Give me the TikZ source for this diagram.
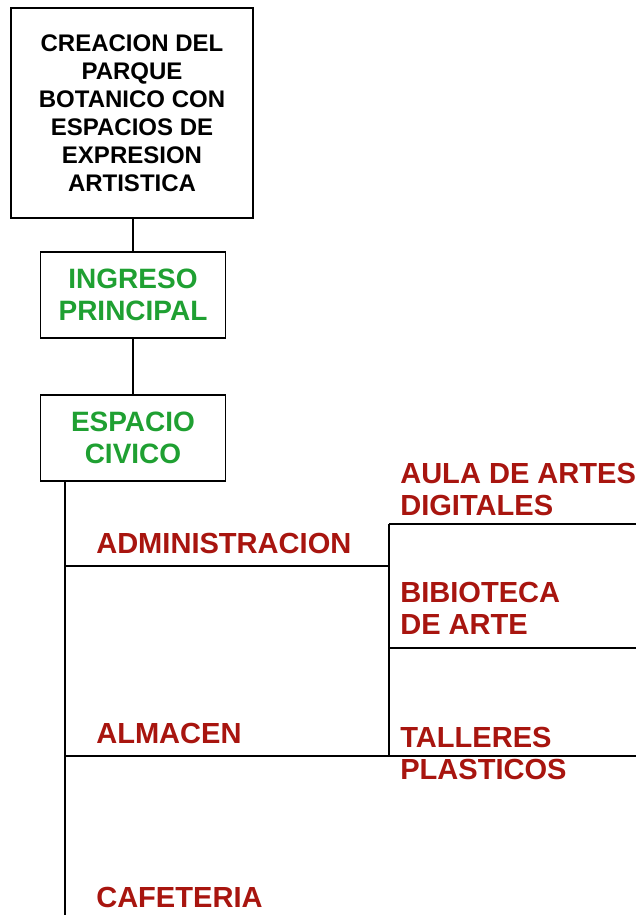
\documentclass[tikz,border=0pt]{standalone}
\usepackage{fontspec}
\setmainfont{Liberation Sans}
\usetikzlibrary{positioning}
\definecolor{verde}{HTML}{1FA032}
\definecolor{rojo}{HTML}{A8150F}

\begin{document}
\begin{tikzpicture}[x=0.75pt,y=-0.75pt]
  \tikzset{
    caja/.style={draw, line width=1.4pt, align=center, inner sep=0pt},
    linea/.style={line width=1.4pt},
    area/.style={anchor=west, align=left, inner sep=0pt, text=rojo,
      font=\fontsize{21.8}{24}\selectfont\bfseries}
  }
  \useasboundingbox (0,0) rectangle (636,915);

  % cajas principales
  \node[caja, minimum width=181.5pt, minimum height=157.5pt,
    font=\fontsize{18}{21}\selectfont\bfseries] (titulo) at (132,113)
    {CREACION DEL\\PARQUE\\BOTANICO CON\\ESPACIOS DE\\EXPRESION\\ARTISTICA};
  \node[caja, minimum width=138.75pt, minimum height=64.5pt, text=verde,
    font=\fontsize{21}{24}\selectfont\bfseries] (ingreso) at (133,295)
    {INGRESO\\PRINCIPAL};
  \node[caja, minimum width=138.75pt, minimum height=64.5pt, text=verde,
    font=\fontsize{21}{24}\selectfont\bfseries] (civico) at (133,438)
    {ESPACIO\\CIVICO};

  \draw[linea] (titulo.south -| ingreso) -- (ingreso.north);
  \draw[linea] (ingreso.south) -- (civico.north);

  % ramas
  \coordinate (tronco) at (65,481);
  \coordinate (fondo) at (65,915);
  \coordinate (admin) at (65,566);
  \coordinate (almacen) at (65,756);
  \coordinate (rama) at (389,566);
  \coordinate (rama1) at (389,524);
  \coordinate (rama2) at (389,648);
  \coordinate (rama3) at (389,756);
  \coordinate (borde1) at (636,524);
  \coordinate (borde2) at (636,648);
  \coordinate (borde3) at (636,756);

  \draw[linea] (tronco) -- (fondo);
  \draw[linea] (admin) -- (rama);
  \draw[linea] (almacen) -- (borde3);
  \draw[linea] (rama1) -- (rama3);
  \draw[linea] (rama1) -- (borde1);
  \draw[linea] (rama2) -- (borde2);

  % etiquetas
  \node[area] (tadmin) at (96,543) {ADMINISTRACION};
  \node[area] (talmacen) at (96,733) {ALMACEN};
  \node[area] (tcafe) at (96,897) {CAFETERIA};
  \node[area] (taula) at (400,489) {AULA DE ARTES\\DIGITALES};
  \node[area] (tbiblio) at (400,608) {BIBIOTECA\\DE ARTE};
  \node[area] (ttaller) at (400,753) {TALLERES\\PLASTICOS};
\end{tikzpicture}
\end{document}
